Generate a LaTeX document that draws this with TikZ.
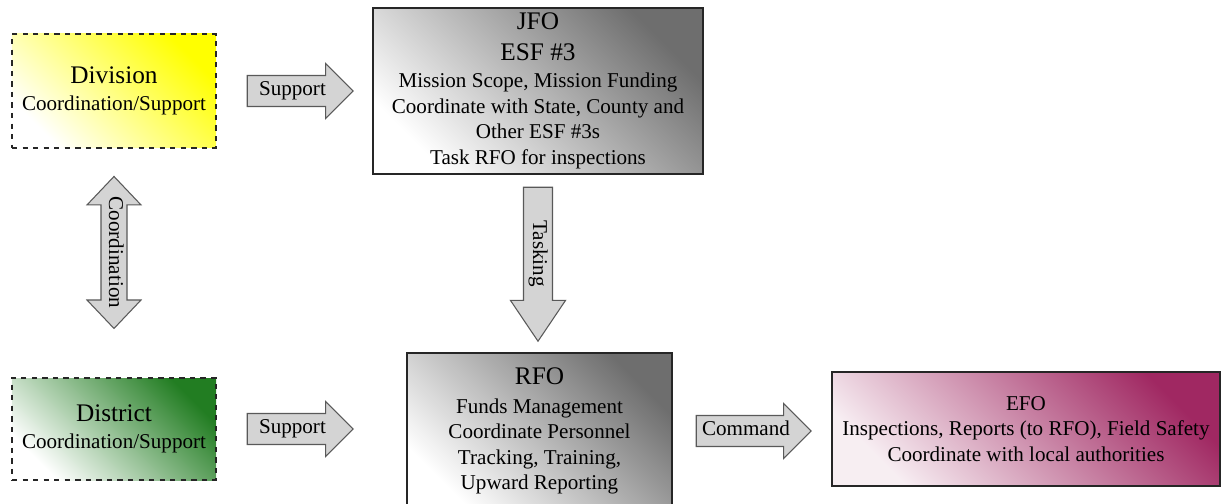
\documentclass[12pt,tikz,border=0pt]{standalone}
\usepackage{fontspec}
\setmainfont{Liberation Serif}
\usetikzlibrary{shapes.arrows,positioning}

\definecolor{arrfill}{RGB}{212,212,212}
\definecolor{divyellow}{RGB}{255,255,0}
\definecolor{distgreen}{RGB}{34,125,34}
\definecolor{boxgray}{RGB}{110,110,110}
\definecolor{efored}{RGB}{160,40,98}

\begin{document}
\begin{tikzpicture}[
  orgbox/.style={draw=black!85, line width=0.8pt, align=center, inner sep=0pt},
  dashbox/.style={orgbox, dashed},
  blockarrow/.style={single arrow, draw=black!65, fill=arrfill, line width=0.6pt,
    text height=8.2pt, text depth=2.6pt, inner xsep=3pt, inner ysep=0.11cm,
    single arrow head extend=0.24cm, single arrow tip angle=90},
  grayshade/.style={top color=boxgray, middle color=black!16, bottom color=white, shading angle=-45}
]

\path[use as bounding box, clip] (0,0) rectangle (24.5,-10.08);

% BOXES %%%%%%%%%%%%%%%%%%%%%%%%%%%%%%%%%%%%%%%%%%%%%%%%%%%%%%%%%%%%%%%%%%

\node[dashbox, minimum width=4.08cm, minimum height=2.28cm,
  top color=divyellow, middle color=divyellow!15!white, bottom color=white, shading angle=-45]
  (Div) at (2.28,-1.82) {\large Division\\[1pt] Coordination/Support};

\node[dashbox, minimum width=4.08cm, minimum height=2.04cm,
  top color=distgreen, middle color=distgreen!18!white, bottom color=white, shading angle=-45]
  (Dist) at (2.28,-8.58) {\large District\\[1pt] Coordination/Support};

\node[orgbox, minimum width=6.6cm, minimum height=3.32cm, grayshade] (JFO) at (10.76,-1.82)
  {\large JFO\\[3pt] \large ESF \#3\\[1pt] Mission Scope, Mission Funding\\ Coordinate with State, County and\\ Other ESF \#3s\\ Task RFO for inspections};

\node[orgbox, minimum width=5.3cm, minimum height=3.12cm, grayshade] (RFO) at (10.79,-8.62)
  {\large RFO\\[2pt] Funds Management\\ Coordinate Personnel\\ Tracking, Training,\\ Upward Reporting};

\node[orgbox, minimum width=7.76cm, minimum height=2.28cm,
  top color=efored, middle color=efored!35!white, bottom color=efored!8!white, shading angle=-45]
  (EFO) at (20.52,-8.58) {EFO\\ Inspections, Reports (to RFO), Field Safety\\ Coordinate with local authorities};

% ARROWS %%%%%%%%%%%%%%%%%%%%%%%%%%%%%%%%%%%%%%%%%%%%%%%%%%%%%%%%%%%%%%%%%

\node[blockarrow, minimum height=2.12cm, right=0.6cm of Div.east, anchor=tail] (SupA) {Support};
\node[blockarrow, minimum height=2.12cm, right=0.6cm of Dist.east, anchor=tail] (SupB) {Support};
\node[blockarrow, minimum height=2.06cm, right=0.46cm of RFO.east, anchor=tail] (Cmd) {Command};

\node[blockarrow, rotate=-90, minimum height=3.08cm, inner ysep=0.09cm,
  single arrow head extend=0.26cm, single arrow tip angle=68,
  below=0.24cm of JFO.south, anchor=tail] (Task) {Tasking};

\node[double arrow, draw=black!65, fill=arrfill, line width=0.6pt, rotate=-90,
  text height=8.2pt, text depth=2.6pt, inner xsep=3pt, inner ysep=0.06cm,
  minimum height=3.04cm, double arrow head extend=0.28cm, double arrow tip angle=87,
  below=0.54cm of Div.south, anchor=west] (Coord) {Coordination};

\end{tikzpicture}
\end{document}
